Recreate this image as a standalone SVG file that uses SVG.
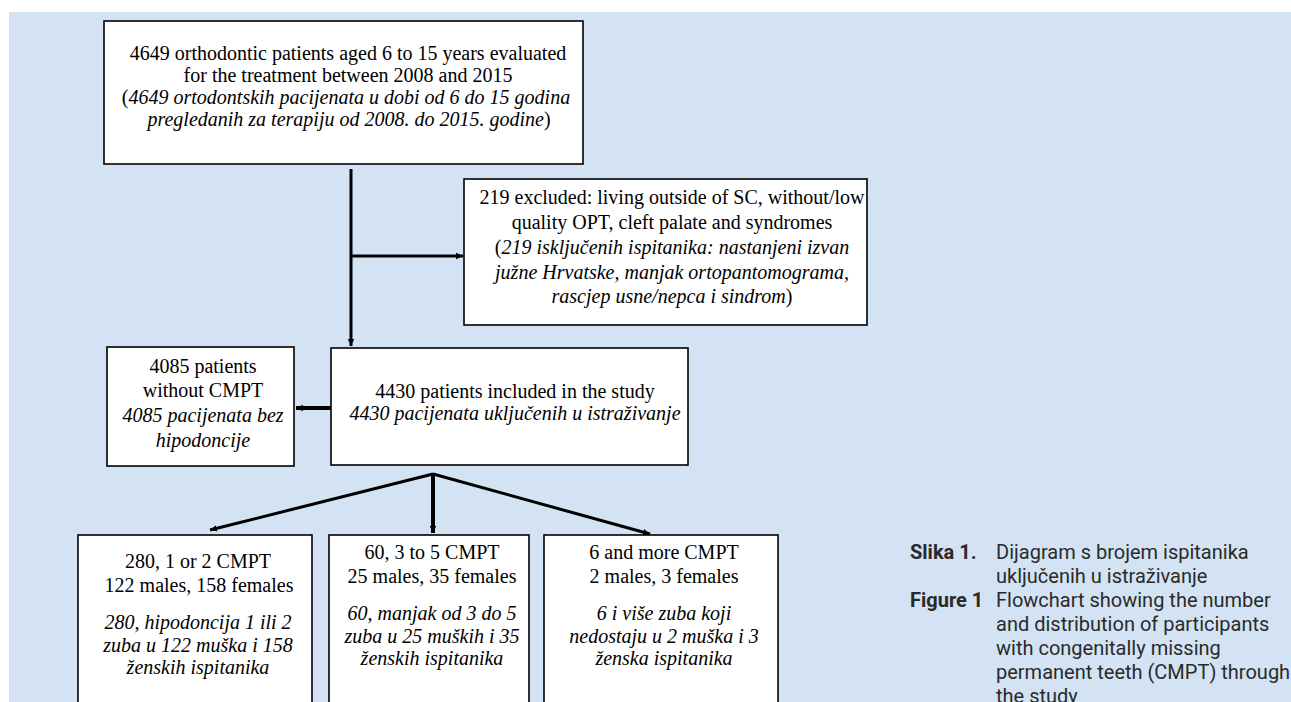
<svg xmlns="http://www.w3.org/2000/svg" width="1291" height="702" viewBox="0 0 1291 702">
<defs>
<style>
.bg{fill:#d3e3f3}
.box{fill:#fff;stroke:#000;stroke-width:1.6}
.t{font-family:"Liberation Serif","Times New Roman",serif;font-size:20px;fill:#000;text-anchor:middle}
.i{font-style:italic}
.n{font-style:normal}
.conn{stroke:#000;fill:none;stroke-linecap:butt}
.cap{font-family:Roboto,"Noto Sans",sans-serif;font-size:20px;fill:#2a2a2a}
.capb{font-weight:bold}
</style>
<marker id="ah" markerUnits="userSpaceOnUse" markerWidth="8" markerHeight="8" refX="7" refY="4" orient="auto">
<path d="M0,0.8 L7,4 L0,7.2 Z" fill="#000"/>
</marker>
</defs>
<rect class="bg" x="9" y="12" width="1282" height="690"/>

<g id="connectors">
<line class="conn" x1="351" y1="169" x2="351" y2="346" stroke-width="3" marker-end="url(#ah)"/>
<line class="conn" x1="352" y1="256" x2="463" y2="256" stroke-width="3" marker-end="url(#ah)"/>
<line class="conn" x1="331" y1="408" x2="296" y2="408" stroke-width="4" marker-end="url(#ah)"/>
<line class="conn" x1="433" y1="474" x2="210" y2="530" stroke-width="3" marker-end="url(#ah)"/>
<line class="conn" x1="433" y1="473" x2="433" y2="533" stroke-width="4" marker-end="url(#ah)"/>
<line class="conn" x1="433" y1="474" x2="650" y2="534" stroke-width="3" marker-end="url(#ah)"/>
</g>

<g id="node-evaluated">
<rect class="box" x="104" y="21" width="479" height="143"/>
<text class="t" x="348" y="60">4649 orthodontic patients aged 6 to 15 years evaluated</text>
<text class="t" x="348" y="82">for the treatment between 2008 and 2015</text>
<text class="t" x="346" y="104">(<tspan class="i">4649 ortodontskih pacijenata u dobi od 6 do 15 godina</tspan></text>
<text class="t" x="349" y="126"><tspan class="i">pregledanih za terapiju od 2008. do 2015. godine</tspan>)</text>
</g>

<g id="node-excluded">
<rect class="box" x="464" y="179" width="403" height="146"/>
<text class="t" x="672" y="204">219 excluded: living outside of SC, without/low</text>
<text class="t" x="672" y="229">quality OPT, cleft palate and syndromes</text>
<text class="t" x="672" y="254">(<tspan class="i">219 isključenih ispitanika: nastanjeni izvan</tspan></text>
<text class="t i" x="672" y="279">južne Hrvatske, manjak ortopantomograma,</text>
<text class="t" x="672" y="303"><tspan class="i">rascjep usne/nepca i sindrom</tspan>)</text>
</g>

<g id="node-without">
<rect class="box" x="107" y="347" width="187" height="119"/>
<text class="t" x="203" y="373">4085 patients</text>
<text class="t" x="203" y="397">without CMPT</text>
<text class="t i" x="203" y="422">4085 pacijenata bez</text>
<text class="t i" x="203" y="447">hipodoncije</text>
</g>

<g id="node-included">
<rect class="box" x="331" y="348" width="357" height="117"/>
<text class="t" x="515" y="398">4430 patients included in the study</text>
<text class="t i" x="515" y="420">4430 pacijenata uključenih u istraživanje</text>
</g>

<g id="node-1-2">
<rect class="box" x="78" y="535" width="234" height="172"/>
<text class="t" x="198" y="568">280, 1 or 2 CMPT</text>
<text class="t" x="199" y="592">122 males, 158 females</text>
<text class="t i" x="198" y="629">280, hipodoncija 1 ili 2</text>
<text class="t i" x="198" y="652">zuba u 122 muška i 158</text>
<text class="t i" x="198" y="674">ženskih ispitanika</text>
</g>

<g id="node-3-5">
<rect class="box" x="329" y="535" width="200" height="172"/>
<text class="t" x="432" y="559">60, 3 to 5 CMPT</text>
<text class="t" x="432" y="583">25 males, 35 females</text>
<text class="t i" x="432" y="620">60, manjak od 3 do 5</text>
<text class="t i" x="432" y="643">zuba u 25 muških i 35</text>
<text class="t i" x="432" y="665">ženskih ispitanika</text>
</g>

<g id="node-6plus">
<rect class="box" x="544" y="535" width="234" height="172"/>
<text class="t" x="664" y="559">6 and more CMPT</text>
<text class="t" x="664" y="583">2 males, 3 females</text>
<text class="t i" x="664" y="620">6 i više zuba koji</text>
<text class="t i" x="664" y="643">nedostaju u 2 muška i 3</text>
<text class="t i" x="664" y="665">ženska ispitanika</text>
</g>

<g id="caption">
<text class="cap capb" x="910" y="559">Slika 1.</text>
<text class="cap" x="996" y="559">Dijagram s brojem ispitanika</text>
<text class="cap" x="996" y="583">uključenih u istraživanje</text>
<text class="cap capb" x="910" y="607">Figure 1</text>
<text class="cap" x="996" y="607">Flowchart showing the number</text>
<text class="cap" x="996" y="631">and distribution of participants</text>
<text class="cap" x="996" y="655">with congenitally missing</text>
<text class="cap" x="996" y="679">permanent teeth (CMPT) through</text>
<text class="cap" x="996" y="703">the study</text>
</g>
</svg>
